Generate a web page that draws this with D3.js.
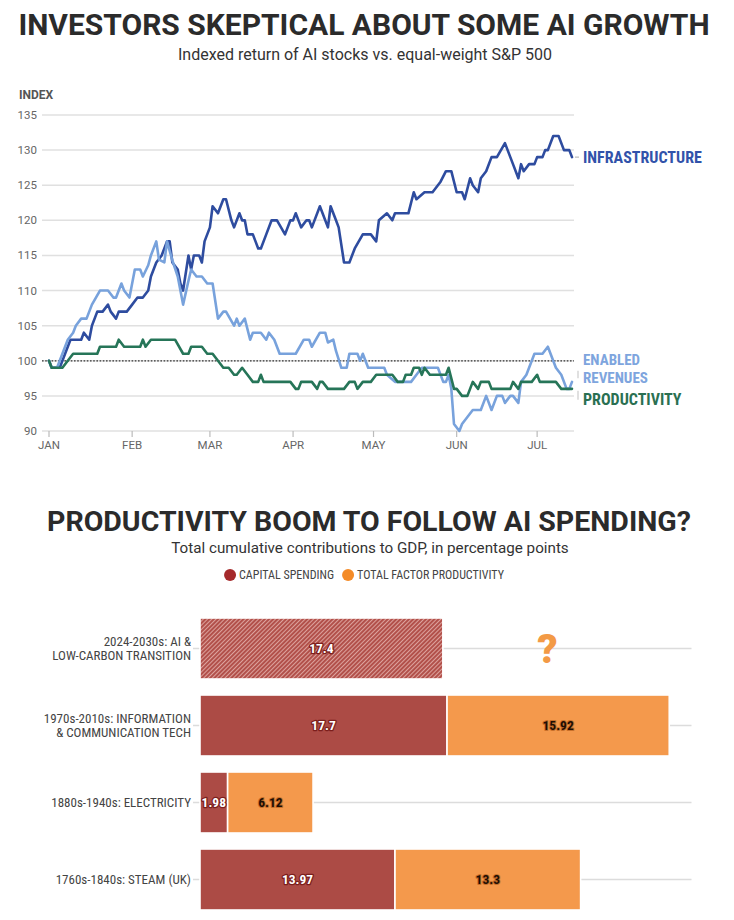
<!DOCTYPE html>
<html><head><meta charset="utf-8">
<script src="https://cdn.jsdelivr.net/npm/d3@7"></script>
<style>html,body{margin:0;padding:0;background:#fff}svg{display:block}</style>
</head><body>
<svg id="c" width="734" height="920"></svg>
<script>
// ================= DATA: chart 1 =================
const monthTicks = ["2024-01-01","2024-02-01","2024-03-01","2024-04-01","2024-05-01","2024-06-01","2024-07-01"];
const monthLabels = ["JAN","FEB","MAR","APR","MAY","JUN","JUL"];
const yTicks = [90,95,100,105,110,115,120,125,130,135];
const dateDomain = ["2024-01-01","2024-07-14"];
const seriesNames = ["INFRASTRUCTURE","ENABLED REVENUES","PRODUCTIVITY"];

const infrastructure = [["2024-01-01",100],["2024-01-02",99],["2024-01-05",99],["2024-01-07",101],["2024-01-09",103],["2024-01-13",103],["2024-01-14",104],["2024-01-16",103],["2024-01-17",105],["2024-01-19",107],["2024-01-21",107],["2024-01-23",108],["2024-01-24",107],["2024-01-26",106],["2024-01-27",107],["2024-01-30",107],["2024-02-01",108],["2024-02-03",109],["2024-02-05",109],["2024-02-07",110],["2024-02-08",112],["2024-02-10",114],["2024-02-12",115],["2024-02-14",117],["2024-02-15",117],["2024-02-16",114],["2024-02-18",113],["2024-02-19",111],["2024-02-20",110],["2024-02-22",115],["2024-02-23",113],["2024-02-24",115],["2024-02-26",115],["2024-02-27",114],["2024-02-28",117],["2024-03-01",119],["2024-03-02",122],["2024-03-04",121],["2024-03-06",123],["2024-03-07",123],["2024-03-09",120],["2024-03-10",119],["2024-03-12",121],["2024-03-13",120],["2024-03-14",120],["2024-03-15",118],["2024-03-17",118],["2024-03-19",116],["2024-03-20",116],["2024-03-22",118],["2024-03-24",120],["2024-03-26",120],["2024-03-29",118],["2024-03-31",120],["2024-04-01",120],["2024-04-02",121],["2024-04-04",119],["2024-04-06",120],["2024-04-07",120],["2024-04-08",119],["2024-04-11",122],["2024-04-12",121],["2024-04-14",119],["2024-04-15",122],["2024-04-17",120],["2024-04-18",119],["2024-04-20",114],["2024-04-22",114],["2024-04-24",116],["2024-04-27",118],["2024-04-30",118],["2024-05-02",117],["2024-05-03",120],["2024-05-06",121],["2024-05-08",120],["2024-05-09",121],["2024-05-14",121],["2024-05-16",124],["2024-05-17",123],["2024-05-20",124],["2024-05-23",124],["2024-05-26",125.5],["2024-05-28",127],["2024-05-30",127],["2024-06-01",124],["2024-06-03",124],["2024-06-04",123],["2024-06-06",126],["2024-06-07",125],["2024-06-09",124],["2024-06-10",126],["2024-06-12",127],["2024-06-14",129],["2024-06-16",129],["2024-06-19",131],["2024-06-21",129],["2024-06-22",128],["2024-06-24",126],["2024-06-25",128],["2024-06-26",127],["2024-06-28",128],["2024-06-30",128],["2024-07-01",129],["2024-07-03",129],["2024-07-04",130],["2024-07-05",130],["2024-07-07",132],["2024-07-09",132],["2024-07-11",130],["2024-07-13",130],["2024-07-14",129]];

const enabledRevenues = [["2024-01-01",100],["2024-01-02",99],["2024-01-04",99],["2024-01-06",101],["2024-01-08",103],["2024-01-10",104],["2024-01-11",105],["2024-01-13",106],["2024-01-15",106],["2024-01-17",108],["2024-01-20",110],["2024-01-23",110],["2024-01-25",109],["2024-01-26",109],["2024-01-28",111],["2024-01-29",110],["2024-01-31",109],["2024-02-02",113],["2024-02-04",113],["2024-02-05",112],["2024-02-07",113.6],["2024-02-08",115],["2024-02-10",117],["2024-02-11",114.4],["2024-02-13",114],["2024-02-14",117],["2024-02-16",114.3],["2024-02-18",112],["2024-02-20",108],["2024-02-22",111.4],["2024-02-23",113],["2024-02-25",112],["2024-02-27",112],["2024-02-29",111],["2024-03-02",111],["2024-03-04",106],["2024-03-06",107],["2024-03-07",107],["2024-03-10",105],["2024-03-11",106],["2024-03-12",105],["2024-03-14",106],["2024-03-16",103],["2024-03-17",104],["2024-03-20",104],["2024-03-22",103],["2024-03-23",104],["2024-03-25",103],["2024-03-27",101],["2024-04-02",101],["2024-04-05",103],["2024-04-07",103],["2024-04-08",102],["2024-04-11",104],["2024-04-13",104],["2024-04-14",102.6],["2024-04-16",103],["2024-04-17",101.4],["2024-04-19",99],["2024-04-21",99],["2024-04-22",101],["2024-04-25",101],["2024-04-26",100],["2024-04-27",101],["2024-04-29",99],["2024-05-05",99],["2024-05-06",98],["2024-05-09",97],["2024-05-15",97],["2024-05-17",98],["2024-05-19",99],["2024-05-25",99],["2024-05-27",97],["2024-05-28",97],["2024-05-29",98],["2024-05-30",96],["2024-05-31",91],["2024-06-02",90],["2024-06-03",91],["2024-06-05",92],["2024-06-07",93],["2024-06-10",93],["2024-06-12",95],["2024-06-14",93],["2024-06-16",95],["2024-06-18",95],["2024-06-19",94],["2024-06-21",95],["2024-06-22",95],["2024-06-24",94],["2024-06-25",97],["2024-06-27",98],["2024-06-29",100],["2024-06-30",101],["2024-07-03",101],["2024-07-05",102],["2024-07-07",100],["2024-07-08",99],["2024-07-10",98],["2024-07-12",96],["2024-07-13",96],["2024-07-14",97]];

const productivity = [["2024-01-01",100],["2024-01-02",99],["2024-01-06",99],["2024-01-08",100],["2024-01-10",101],["2024-01-19",101],["2024-01-20",102],["2024-01-26",102],["2024-01-27",103],["2024-01-29",102],["2024-02-04",102],["2024-02-05",103],["2024-02-06",102],["2024-02-08",103],["2024-02-17",103],["2024-02-20",101],["2024-02-22",101],["2024-02-23",102],["2024-02-27",102],["2024-02-29",101],["2024-03-02",101],["2024-03-04",100],["2024-03-06",99],["2024-03-08",99],["2024-03-10",98],["2024-03-11",98],["2024-03-13",99],["2024-03-15",98],["2024-03-17",97],["2024-03-19",97],["2024-03-20",98],["2024-03-21",97],["2024-03-31",97],["2024-04-02",96],["2024-04-03",96],["2024-04-04",97],["2024-04-08",97],["2024-04-10",96],["2024-04-11",97],["2024-04-12",97],["2024-04-14",96],["2024-04-20",96],["2024-04-22",97],["2024-04-24",97],["2024-04-25",96],["2024-04-27",97],["2024-04-30",97],["2024-05-02",98],["2024-05-08",98],["2024-05-10",97],["2024-05-12",97],["2024-05-13",98],["2024-05-15",98],["2024-05-16",99],["2024-05-18",99],["2024-05-19",98],["2024-05-20",99],["2024-05-22",98],["2024-05-28",98],["2024-05-29",99],["2024-05-31",96],["2024-06-01",96],["2024-06-03",95],["2024-06-05",95],["2024-06-07",97],["2024-06-09",96],["2024-06-10",97],["2024-06-13",97],["2024-06-14",96],["2024-06-21",96],["2024-06-22",97],["2024-06-24",96],["2024-06-25",97],["2024-06-29",97],["2024-07-01",98],["2024-07-02",97],["2024-07-08",97],["2024-07-10",96],["2024-07-14",96]];

// ================= DATA: chart 2 =================
const eraLabels = [["2024-2030s: AI &","LOW-CARBON TRANSITION"],["1970s-2010s: INFORMATION","& COMMUNICATION TECH"],["1880s-1940s: ELECTRICITY"],["1760s-1840s: STEAM (UK)"]];
const capitalSpending = [17.4, 17.7, 1.98, 13.97];
const totalFactorProductivity = [null, 15.92, 6.12, 13.3];
const projected = [true, false, false, false];
const legendLabels = ["CAPITAL SPENDING","TOTAL FACTOR PRODUCTIVITY"];

// ================= SETUP =================
const svg = d3.select("#c");
function hasFont(name){
  const t = svg.append("text").attr("x",-2000).attr("y",-2000).style("font-size","40px").text("ABCDEFGHIJKLM abcdefghij 0123456789");
  t.style("font-family","monospace"); const w0 = t.node().getComputedTextLength();
  t.style("font-family",`'${name}', monospace`); const w1 = t.node().getComputedTextLength();
  t.remove(); return Math.abs(w0-w1) > 0.5;
}
const CF = ["Roboto Condensed","Liberation Sans Narrow","Arial Narrow","DejaVu Sans Condensed"].find(hasFont);
const COND = CF ? `'${CF}', Roboto, sans-serif` : "Roboto, sans-serif";
const K = CF ? 1 : 0.8;
function condense(sel){
  if (K === 1) return sel;
  sel.each(function(){
    const t = d3.select(this), x = +t.attr("x")||0, y = +t.attr("y")||0;
    t.attr("transform",`translate(${x},${y}) scale(${K},1) translate(${-x},${-y})`);
  });
  return sel;
}
const SANS = "Roboto, 'Liberation Sans', sans-serif";
const parse = d3.timeParse("%Y-%m-%d");
const colInfra = "#2e4c9f", colEnabled = "#78a2dc", colProd = "#267558";
const colInfraTxt = "#3152aa", colEnabledTxt = "#7ea5de", colProdTxt = "#2a7052";

// ================= CHART 1 =================
svg.append("text").attr("x",364).attr("y",35).attr("text-anchor","middle")
  .style("font-family",SANS).style("font-weight",700).style("font-size","30px").attr("fill","#2b2b2b")
  .text("INVESTORS SKEPTICAL ABOUT SOME AI GROWTH");
svg.append("text").attr("x",365).attr("y",60).attr("text-anchor","middle")
  .style("font-family",SANS).style("font-size","16px").attr("fill","#333")
  .text("Indexed return of AI stocks vs. equal-weight S&P 500");
svg.append("text").attr("x",19).attr("y",99)
  .style("font-family",SANS).style("font-weight",700).style("font-size","12px").attr("fill","#555").text("INDEX");

const x = d3.scaleTime().domain(dateDomain.map(parse)).range([49, 572]);
const y = d3.scaleLinear().domain([90,135]).range([431,115]);
const gx0 = 42, gx1 = 574;

const g1 = svg.append("g");
g1.selectAll("line.grid").data(yTicks).join("line").attr("class","grid")
  .attr("x1",gx0).attr("x2",gx1).attr("y1",d=>y(d)).attr("y2",d=>y(d))
  .attr("stroke","#e0e0e0").attr("stroke-width",1.5);
g1.selectAll("text.yt").data(yTicks).join("text").attr("class","yt")
  .attr("x",37).attr("y",d=>y(d)).attr("dy","0.35em").attr("text-anchor","end")
  .style("font-family",SANS).style("font-size","11.5px").attr("fill","#666").text(d=>d);

// x axis ticks and labels
g1.selectAll("line.xt").data(monthTicks).join("line").attr("class","xt")
  .attr("x1",d=>x(parse(d))).attr("x2",d=>x(parse(d))).attr("y1",y(90)).attr("y2",y(90)+6)
  .attr("stroke","#bbb").attr("stroke-width",1.2);
g1.selectAll("text.xl").data(monthTicks).join("text").attr("class","xl")
  .attr("x",d=>x(parse(d))).attr("y",y(90)+18).attr("text-anchor","middle")
  .style("font-family",SANS).style("font-size","11.5px").attr("fill","#666")
  .text((d,i)=>monthLabels[i]);

// baseline 100 dotted
g1.append("line").attr("x1",gx0).attr("x2",gx1).attr("y1",y(100)).attr("y2",y(100))
  .attr("stroke","#333").attr("stroke-width",1.2).attr("stroke-dasharray","1.6,1.6");

const line = d3.line().x(d=>x(parse(d[0]))).y(d=>y(d[1])).curve(d3.curveLinear);
const series = [
  {name:seriesNames[0], data:infrastructure, color:colInfra},
  {name:seriesNames[1], data:enabledRevenues, color:colEnabled},
  {name:seriesNames[2], data:productivity, color:colProd}
];
g1.selectAll("path.s").data(series).join("path").attr("class","s")
  .attr("d",d=>line(d.data)).attr("fill","none").attr("stroke",d=>d.color)
  .attr("stroke-width",2.6).attr("stroke-linejoin","round").attr("stroke-linecap","round");

// end labels
const last = s => s[s.length-1];
const lx = 583;
const yInf = y(last(infrastructure)[1]);
const yEn = y(last(enabledRevenues)[1]);
const yPr = y(last(productivity)[1]);
g1.append("line").attr("x1",x(parse(last(infrastructure)[0]))+3).attr("x2",lx-4)
  .attr("y1",yInf).attr("y2",yInf).attr("stroke","#bbb").attr("stroke-width",1.2);
g1.append("line").attr("x1",lx-5).attr("x2",lx-5).attr("y1",yEn-11).attr("y2",yEn-3.5)
  .attr("stroke","#ccc").attr("stroke-width",1.2);
g1.append("line").attr("x1",lx-5).attr("x2",lx-5).attr("y1",yPr+2).attr("y2",yPr+11)
  .attr("stroke","#ccc").attr("stroke-width",1.2);

const labFont = (sel,fs) => sel.style("font-family",COND).style("font-weight",700).style("font-size",(fs||16)+"px");
condense(labFont(g1.append("text").attr("x",lx).attr("y",yInf).attr("dy","0.36em").attr("fill",colInfraTxt).text(seriesNames[0])));
const enParts = seriesNames[1].split(" ");
condense(labFont(g1.append("text").attr("x",lx).attr("y",yEn-16.4).attr("fill",colEnabledTxt).text(enParts[0]),15));
condense(labFont(g1.append("text").attr("x",lx).attr("y",yEn+1.3).attr("fill",colEnabledTxt).text(enParts[1]),15));
condense(labFont(g1.append("text").attr("x",lx).attr("y",yPr+16.5).attr("fill",colProdTxt).text(seriesNames[2])));

// ================= CHART 2 =================
const colCap = "#ac4b45", colTfp = "#f4994c", colCapDot = "#a5292b", colTfpDot = "#f48b27";
svg.append("text").attr("x",369).attr("y",531).attr("text-anchor","middle")
  .style("font-family",SANS).style("font-weight",700).style("font-size","28.5px").attr("fill","#2b2b2b")
  .text("PRODUCTIVITY BOOM TO FOLLOW AI SPENDING?");
svg.append("text").attr("x",370).attr("y",553).attr("text-anchor","middle")
  .style("font-family",SANS).style("font-size","15.2px").attr("fill","#333")
  .text("Total cumulative contributions to GDP, in percentage points");

// legend
const leg = svg.append("g");
const legColors = [colCapDot, colTfpDot];
let lxPos = 0;
legendLabels.forEach((lab,i)=>{
  const gI = leg.append("g");
  gI.append("circle").attr("cx",6).attr("cy",0).attr("r",6).attr("fill",legColors[i]);
  const t = gI.append("text").attr("x",15).attr("y",0).attr("dy","0.36em")
    .style("font-family",COND).style("font-size","12px").attr("fill","#444").text(lab);
  condense(t);
  const w = 15 + t.node().getComputedTextLength()*K;
  gI.attr("transform",`translate(${lxPos},0)`);
  lxPos += w + 8;
});
const legW = lxPos - 8;
leg.attr("transform",`translate(${364 - legW/2},575)`);

const keys = eraLabels.map((d,i)=>i);
const xb = d3.scaleLinear().domain([0,35]).range([200,688.5]);
const yb = d3.scaleBand().domain(keys).range([610,918]).paddingInner(0.208).paddingOuter(0.104);
const cy = i => yb(i) + yb.bandwidth()/2;

const defs = svg.append("defs");
const pat = defs.append("pattern").attr("id","hatch").attr("patternUnits","userSpaceOnUse")
  .attr("width",3).attr("height",3).attr("patternTransform","rotate(45)");
pat.append("rect").attr("width",3).attr("height",3).attr("fill","#dca29d");
pat.append("line").attr("x1",1).attr("x2",1).attr("y1",0).attr("y2",3).attr("stroke","#b04c46").attr("stroke-width",1.9);

const g2 = svg.append("g");
g2.selectAll("line.row").data(keys).join("line").attr("class","row")
  .attr("x1",193).attr("x2",xb.range()[1]+3).attr("y1",cy).attr("y2",cy)
  .attr("stroke","#dcdcdc").attr("stroke-width",1.5);

// category labels
keys.forEach(i=>{
  const lines = eraLabels[i];
  const lh = 13.5;
  const t = g2.append("text").attr("x",191).attr("y",cy(i)).attr("text-anchor","end")
    .style("font-family",COND).style("font-size","13px").attr("fill","#444");
  lines.forEach((ln,j)=>{
    t.append("tspan").attr("x",191).attr("y",cy(i) + (j - (lines.length-1)/2)*lh).attr("dy","0.36em").text(ln);
  });
  condense(t);
});

// capital bars
g2.selectAll("rect.cap").data(keys).join("rect").attr("class","cap")
  .attr("x",xb(0)).attr("y",i=>yb(i)).attr("height",yb.bandwidth())
  .attr("width",i=>xb(capitalSpending[i])-xb(0))
  .attr("fill",i=>projected[i] ? "url(#hatch)" : colCap)
  .attr("stroke","#fff").attr("stroke-width",1.6);
// TFP bars
const tfpKeys = keys.filter(i=>totalFactorProductivity[i] != null);
g2.selectAll("rect.tfp").data(tfpKeys).join("rect").attr("class","tfp")
  .attr("x",i=>xb(capitalSpending[i])).attr("y",i=>yb(i)).attr("height",yb.bandwidth())
  .attr("width",i=>xb(capitalSpending[i]+totalFactorProductivity[i])-xb(capitalSpending[i]))
  .attr("fill",colTfp).attr("stroke","#fff").attr("stroke-width",1.6);

// value labels
keys.forEach(i=>{
  const t = g2.append("text").attr("x",xb(capitalSpending[i]/2)).attr("y",cy(i)).attr("dy","0.36em")
    .attr("text-anchor","middle").style("font-family",COND).style("font-weight",700).style("font-size","13.5px")
    .attr("fill","#fff").attr("stroke","#7c1e1c").attr("stroke-width",2.6).attr("paint-order","stroke")
    .attr("stroke-linejoin","round").text(capitalSpending[i]);
  condense(t);
});
tfpKeys.forEach(i=>{
  const t = g2.append("text").attr("x",xb(capitalSpending[i]+totalFactorProductivity[i]/2)).attr("y",cy(i)).attr("dy","0.36em")
    .attr("text-anchor","middle").style("font-family",COND).style("font-weight",700).style("font-size","13.5px")
    .attr("fill","#1e0e04").attr("stroke","#c8702a").attr("stroke-width",2).attr("paint-order","stroke")
    .attr("stroke-linejoin","round").text(totalFactorProductivity[i]);
  condense(t);
});
// question mark for unknown TFP
keys.filter(i=>totalFactorProductivity[i] == null).forEach(i=>{
  g2.append("text").attr("x",xb(capitalSpending[i] + 7.5)).attr("y",cy(i)).attr("dy","0.36em")
    .attr("text-anchor","middle").style("font-family",SANS).style("font-weight",900).style("font-size","40px")
    .attr("fill","#f39a45").text("?");
});
</script>
</body></html>
